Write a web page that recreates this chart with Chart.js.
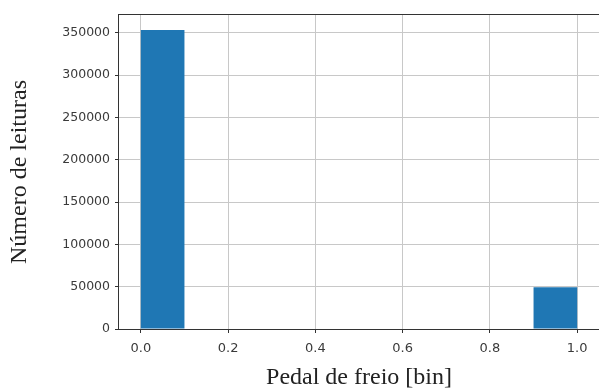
<!DOCTYPE html>
<html>
<head>
<meta charset="utf-8">
<script src="https://cdn.jsdelivr.net/npm/chart.js@4"></script>
<style>
  html, body { margin: 0; padding: 0; background: #fff; }
  #box { width: 599px; height: 388px; }
</style>
</head>
<body>
<div id="box"><canvas id="hist"></canvas></div>
<script>
// histogram: 10 bins between 0 and 1
const binCentres = [0.05, 0.15, 0.25, 0.35, 0.45, 0.55, 0.65, 0.75, 0.85, 0.95];
const contagens = [353500, 0, 0, 0, 0, 0, 0, 0, 0, 49300];
const xTicks = [0.0, 0.2, 0.4, 0.6, 0.8, 1.0];
const yTicks = [0, 50000, 100000, 150000, 200000, 250000, 300000, 350000];

const moldura = {
  id: 'moldura',
  afterDraw(chart) {
    const a = chart.chartArea, c = chart.ctx;
    c.save();
    c.strokeStyle = '#333';
    c.lineWidth = 1;
    c.strokeRect(a.left - 0.5, a.top - 0.5, a.right - a.left + 1, a.bottom - a.top + 1);
    c.restore();
  }
};

new Chart(document.getElementById('hist'), {
  type: 'bar',
  data: {
    datasets: [{
      data: binCentres.map((x, i) => ({ x: x, y: contagens[i] })),
      backgroundColor: '#1f77b4',
      borderWidth: 0,
      inflateAmount: 0,
      barPercentage: 1,
      categoryPercentage: 1
    }]
  },
  options: {
    responsive: true,
    maintainAspectRatio: false,
    animation: false,
    layout: { padding: { left: 0, right: -2, top: 15, bottom: 0 } },
    plugins: { legend: { display: false }, tooltip: { enabled: false } },
    scales: {
      x: {
        type: 'linear',
        min: -0.05,
        max: 1.05,
        offset: false,
        z: 1,
        afterBuildTicks: s => { s.ticks = xTicks.map(v => ({ value: v })); },
        afterFit: s => { s.height = 59; },
        grid: { offset: false, color: '#c8c8c8', lineWidth: 1, tickLength: 4, tickColor: '#333' },
        border: { display: false },
        ticks: {
          color: '#3a3a3a',
          padding: 8,
          maxRotation: 0,
          font: { family: 'DejaVu Sans', size: 13 },
          callback: v => Number(v).toFixed(1)
        },
        title: {
          display: true,
          text: 'Pedal de freio [bin]',
          color: '#222',
          font: { family: 'Liberation Serif', size: 24 },
          padding: { top: 0, bottom: -4 }
        }
      },
      y: {
        min: 0,
        max: 371175,
        z: 1,
        afterBuildTicks: s => { s.ticks = yTicks.map(v => ({ value: v })); },
        afterFit: s => { s.width = 119; },
        grid: { color: '#c8c8c8', lineWidth: 1, tickLength: 4, tickColor: '#333' },
        border: { display: false },
        ticks: {
          color: '#3a3a3a',
          padding: 5,
          font: { family: 'DejaVu Sans', size: 12.5 },
          callback: v => String(v)
        },
        title: {
          display: true,
          text: 'Número de leituras',
          color: '#222',
          font: { family: 'Liberation Serif', size: 24 },
          padding: { top: 5, bottom: 0 }
        }
      }
    }
  },
  plugins: [moldura]
});
</script>
</body>
</html>
